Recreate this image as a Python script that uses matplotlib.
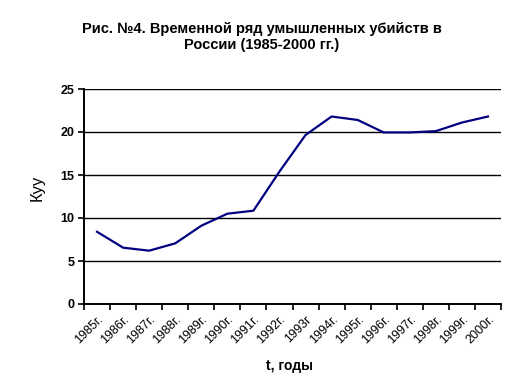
import matplotlib
matplotlib.use("Agg")
import matplotlib.pyplot as plt
import matplotlib.transforms as mtransforms

years = ["1985г.", "1986г.", "1987г.", "1988г.", "1989г.", "1990г.", "1991г.", "1992г.",
         "1993г", "1994г.", "1995г.", "1996г.", "1997г.", "1998г.", "1999г.", "2000г."]
values = [8.4, 6.55, 6.2, 7.05, 9.1, 10.5, 10.85, 15.4, 19.65, 21.8, 21.4, 19.95, 19.95, 20.1, 21.1, 21.8]
yticks = [0, 5, 10, 15, 20, 25]
title_lines = ["Рис. №4. Временной ряд умышленных убийств в", "России (1985-2000 гг.)"]

plt.rcParams['font.family'] = ['Liberation Sans', 'DejaVu Sans']

fig = plt.figure(figsize=(5.17, 3.92), dpi=100)
ax = fig.add_axes([84/517, 1-304/392, (501-84)/517, (304-89)/392])

x = list(range(len(years)))
ax.plot(x, values, color='#000080', lw=1.6)
ax.set_xlim(-0.5, len(years) - 0.5)
ax.set_ylim(0, 25)
ax.set_yticks(yticks)
ax.set_yticklabels([str(v) for v in yticks], fontsize=9, fontweight='bold')
for v in yticks[1:]:
    ax.axhline(v, color='black', lw=1.0, zorder=0)

ax.set_xticks([i - 0.5 for i in range(len(years) + 1)])
ax.set_xticklabels([])
ax.set_xticks(x, minor=True)
ax.set_xticklabels(years, minor=True, rotation=45, ha='right', rotation_mode='anchor', fontsize=9)
offset = mtransforms.ScaledTranslation(-5/100, -2/100, fig.dpi_scale_trans)
for lab in ax.get_xticklabels(minor=True):
    lab.set_transform(lab.get_transform() + offset)
ax.tick_params(axis='x', which='minor', length=0, pad=7)
ax.tick_params(axis='x', which='major', length=4, width=1.2, direction='out')
ax.tick_params(axis='y', length=4, width=1.2, direction='out', pad=3)

for s in ['top', 'right']:
    ax.spines[s].set_visible(False)
for s in ['left', 'bottom']:
    ax.spines[s].set_linewidth(1.4)

ax.set_ylabel("Куу", fontsize=12)
ax.yaxis.set_label_coords(-0.094, 0.54)
ax.set_xlabel("t, годы", fontsize=10, fontweight='bold')
ax.xaxis.set_label_coords(0.494, -0.257)

fig.text(262/517, 1-29/392, title_lines[0], ha='center', va='center', fontsize=10.5, fontweight='bold')
fig.text(262/517, 1-45/392, title_lines[1], ha='center', va='center', fontsize=10.5, fontweight='bold')

fig.savefig("out.png", dpi=100)
